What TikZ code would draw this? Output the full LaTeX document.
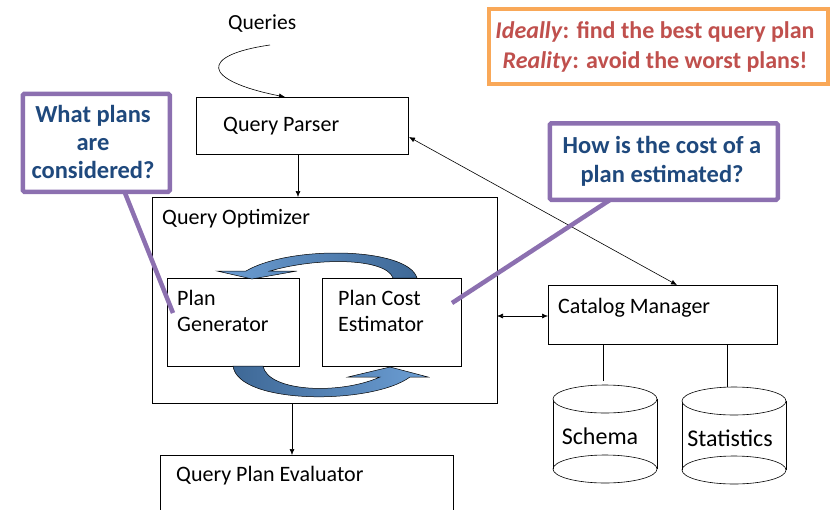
\documentclass[tikz,border=0pt]{standalone}
\usepackage{fontspec}
\setmainfont{Carlito}
\usetikzlibrary{arrows.meta,calc}
\definecolor{calloutpurple}{RGB}{140,112,176}
\definecolor{calloutblue}{RGB}{31,73,125}
\definecolor{noteorange}{RGB}{249,168,88}
\definecolor{notered}{RGB}{192,80,77}
\definecolor{arrowlight}{RGB}{108,158,212}
\definecolor{arrowdark}{RGB}{62,104,150}
\begin{document}
\begin{tikzpicture}[x=1pt,y=-1pt,
  box/.style={draw=black, line width=0.8pt, fill=white, rectangle, anchor=north west, inner sep=0pt},
  lbl/.style={anchor=base west, inner sep=0pt, font=\fontsize{22}{26}\selectfont},
  clbl/.style={anchor=base, inner sep=0pt, font=\fontsize{24}{28}\selectfont},
  ctext/.style={anchor=base, inner sep=0pt, text=calloutblue, font=\fontsize{24.5}{28}\selectfont\bfseries},
  otext/.style={anchor=base, inner sep=0pt, text=notered, font=\fontsize{24}{28}\selectfont\bfseries},
  callout/.style={draw=calloutpurple, line width=4.5pt, fill=white, rounded corners=1.5pt, rectangle, anchor=north west, inner sep=0pt},
  pointer/.style={draw=calloutpurple, line width=4.5pt},
  arr/.style={-{Latex[length=6pt,width=5pt]}, line width=0.6pt},
  dblarr/.style={{Latex[length=6pt,width=5pt]}-{Latex[length=6pt,width=5pt]}, line width=0.6pt},
  plain/.style={line width=0.6pt},
  bluearrow/.style={draw=black, line width=0.5pt}
]
\path[use as bounding box] (0,0) rectangle (830,509);

% ---- boxes ----
\node[box, minimum width=212pt, minimum height=57pt] (parser) at (196,97) {};
\node[lbl] (parsert) at (223,131) {Query Parser};

\node[box, minimum width=345pt, minimum height=206pt] (opt) at (152,197) {};
\node[lbl] (optt) at (162,224) {Query Optimizer};

\node[box, minimum width=132pt, minimum height=88pt] (gen) at (167,278) {};
\node[lbl] (gen1) at (177,305) {Plan};
\node[lbl] (gen2) at (177,331) {Generator};

\node[box, minimum width=139pt, minimum height=88pt] (est) at (322,278) {};
\node[lbl] (est1) at (338,305) {Plan Cost};
\node[lbl] (est2) at (338,331) {Estimator};

\node[box, minimum width=229pt, minimum height=59pt] (cat) at (548,285) {};
\node[lbl] (catt) at (558,313) {Catalog Manager};

\node[box, minimum width=293pt, minimum height=70pt] (eval) at (160,455) {};
\node[lbl] (evalt) at (176,481) {Query Plan Evaluator};

% ---- queries input ----
\node[lbl, font=\fontsize{21.5}{26}\selectfont] (queries) at (228,29) {Queries};
\coordinate (qstart) at (270,45);
\coordinate (qend) at (285,97);
\draw[arr] (qstart) .. controls (200,55) and (200,80) .. (qend);

% ---- connectors ----
\coordinate (pbot) at (298,154);
\draw[arr] (pbot) -- (pbot |- opt.north);
\coordinate (obot) at (292,403);
\draw[arr] (obot) -- (obot |- eval.north);
\coordinate (pside) at (409,137);
\coordinate (ctop) at (677,285);
\draw[dblarr] (pside) -- (ctop);
\coordinate (ocy) at (497,316);
\draw[dblarr] (ocy) -- (ocy -| cat.west);

% ---- blue cycle arrows ----
\shadedraw[bluearrow, left color=arrowlight, right color=arrowdark]
  (417,278) .. controls (408,247) and (290,245) .. (246,271)
  -- (217,271) -- (252,279) -- (297,271) -- (270,271)
  .. controls (318,257) and (386,258) .. (393,278) -- cycle;
\shadedraw[bluearrow, left color=arrowdark, right color=arrowlight]
  (233,366) .. controls (238,405) and (372,405) .. (410,377)
  -- (428,377) -- (390,367) -- (348,377) -- (380,377)
  .. controls (340,395) and (268,392) .. (263,366) -- cycle;

% ---- cylinders ----
\node[inner sep=0pt, minimum width=104pt, minimum height=98pt] (schema) at (605,434) {};
\draw[plain] (schema.north west |- 0,399) -- (schema.south west |- 0,469);
\draw[plain] (schema.north east |- 0,399) -- (schema.south east |- 0,469);
\draw[plain, fill=white] (605,399) ellipse [x radius=52, y radius=14];
\draw[plain] (605,469) ellipse [x radius=52, y radius=14];
\node[clbl] (schemat) at (600,444) {Schema};

\node[inner sep=0pt, minimum width=104pt, minimum height=98pt] (stats) at (734,436) {};
\draw[plain] (stats.north west |- 0,401) -- (stats.south west |- 0,470);
\draw[plain] (stats.north east |- 0,401) -- (stats.south east |- 0,470);
\draw[plain, fill=white] (734,401) ellipse [x radius=52, y radius=14];
\draw[plain] (734,470) ellipse [x radius=52, y radius=14];
\node[clbl] (statst) at (730,446) {Statistics};

\coordinate (sch) at (603,381);
\draw[plain] (sch) -- (sch |- cat.south);
\coordinate (sta) at (727,387);
\draw[plain] (sta) -- (sta |- cat.south);

% ---- callouts ----
\coordinate (lp1) at (123,188);
\coordinate (lp2) at (173,313);
\draw[pointer] (lp1) -- (lp2);
\node[callout, minimum width=147pt, minimum height=98pt] (leftc) at (20.5,91.5) {};
\node[ctext] (leftc1) at (93,122) {What plans};
\node[ctext] (leftc2) at (93,150) {are};
\node[ctext] (leftc3) at (93,178) {considered?};

\coordinate (rp1) at (616,196);
\coordinate (rp2) at (452,303);
\draw[pointer] (rp1) -- (rp2);
\node[callout, minimum width=228pt, minimum height=76.5pt] (rightc) at (547.5,121) {};
\node[ctext] (rightc1) at (662,153) {How is the cost of a};
\node[ctext] (rightc2) at (662,182) {plan estimated?};

% ---- orange note ----
\draw[noteorange, line width=4pt] (557,84) -- (593,84);
\node[draw=noteorange, line width=4pt, fill=white, rectangle, anchor=north west, inner sep=0pt,
  minimum width=338.5pt, minimum height=75pt] (note) at (487,6.5) {};
\node[otext] (note1) at (655,38) {\textit{Ideally}: find the best query plan};
\node[otext] (note2) at (655,68) {\textit{Reality}: avoid the worst plans!};
\end{tikzpicture}
\end{document}
